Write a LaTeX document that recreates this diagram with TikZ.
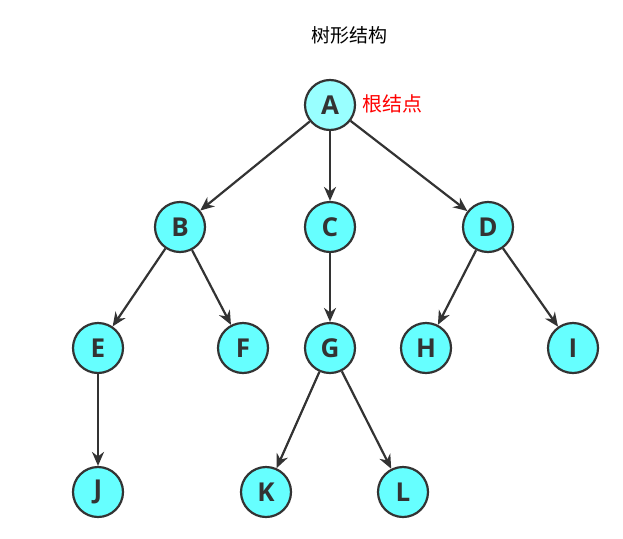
\documentclass[tikz,border=0pt]{standalone}
\usepackage{fontspec}
\setmainfont{Open Sans}
\newfontfamily\cjk{Noto Sans CJK SC}
\usetikzlibrary{arrows.meta}
\definecolor{nodecyan}{HTML}{66FFFF}
\definecolor{rootcyan}{HTML}{99FFFF}
\definecolor{edgegray}{HTML}{333333}
\begin{document}
\begin{tikzpicture}[x=1pt,y=-1pt,
  tnode/.style={circle,draw=edgegray,line width=2.2pt,fill=nodecyan,minimum size=50pt,inner sep=0pt,
    font=\fontsize{26}{30}\selectfont\bfseries,text=edgegray},
  edge/.style={draw=edgegray,line width=2.2pt,-{Stealth[length=14pt,width=12pt]}}]
\useasboundingbox (0,0) rectangle (623,538);
\node[font=\cjk\fontsize{19}{22}\selectfont] (title) at (349,35) {树形结构};
\node[tnode,fill=rootcyan] (A) at (330,105) {A};
\node[font=\cjk\fontsize{20}{24}\selectfont,text=red,anchor=west] (lbl) at (359,104) {根结点};
\node[tnode] (B) at (180,227) {B};
\node[tnode] (C) at (330,227) {C};
\node[tnode] (D) at (488,227) {D};
\node[tnode] (E) at (98,348) {E};
\node[tnode] (F) at (243,348) {F};
\node[tnode] (G) at (330,348) {G};
\node[tnode] (H) at (426,348) {H};
\node[tnode] (I) at (573,348) {I};
\node[tnode] (J) at (98,492) {J};
\node[tnode] (K) at (266,492) {K};
\node[tnode] (L) at (403,492) {L};
\draw[edge] (A) -- (B);
\draw[edge] (A) -- (C);
\draw[edge] (A) -- (D);
\draw[edge] (B) -- (E);
\draw[edge] (B) -- (F);
\draw[edge] (C) -- (G);
\draw[edge] (D) -- (H);
\draw[edge] (D) -- (I);
\draw[edge] (E) -- (J);
\draw[edge] (G) -- (K);
\draw[edge] (G) -- (L);
\end{tikzpicture}
\end{document}
